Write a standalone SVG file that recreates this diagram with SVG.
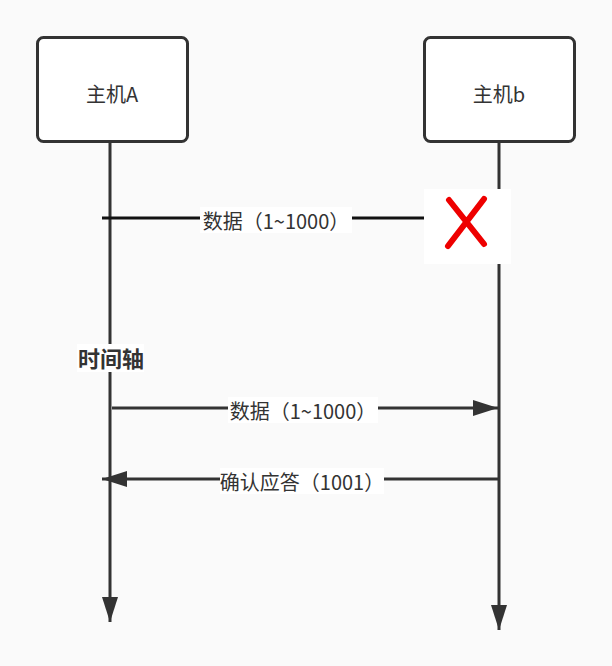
<svg xmlns="http://www.w3.org/2000/svg" width="612" height="666" viewBox="0 0 612 666">
<style>
.box{fill:#fff;stroke:#333;stroke-width:3}
.life{stroke:#333;stroke-width:3;fill:none}
.msg{stroke:#333;stroke-width:3;fill:none}
.lbl{font-family:"Noto Sans CJK SC","Microsoft YaHei",sans-serif;font-size:20px;fill:#333;text-anchor:middle}
.bg{fill:#fff}
</style>
<defs>
<marker id="ah" markerUnits="userSpaceOnUse" markerWidth="26" markerHeight="16" refX="25" refY="8" orient="auto">
<path d="M0,0 L25,8 L0,16 Z" fill="#333"/>
</marker>
</defs>
<rect width="612" height="666" fill="#fafafa"/>
<g id="lifelines">
<line class="life" x1="110" y1="141" x2="110" y2="622" marker-end="url(#ah)"/>
<line class="life" x1="499" y1="141" x2="499" y2="630" marker-end="url(#ah)"/>
</g>
<g id="hostA">
<rect class="box" x="37.5" y="37.5" width="150" height="104" rx="6"/>
<text class="lbl" x="112" y="102">主机A</text>
</g>
<g id="hostB">
<rect class="box" x="424.5" y="37.5" width="150" height="104" rx="6"/>
<text class="lbl" x="499" y="102">主机b</text>
</g>
<g id="connectors">
<line x1="102" y1="218" x2="424" y2="218" stroke="#111" stroke-width="3"/>
<line class="msg" x1="112" y1="408" x2="498" y2="408" marker-end="url(#ah)"/>
<line class="msg" x1="499" y1="479" x2="102" y2="479" marker-end="url(#ah)"/>
</g>
<g id="labels">
<rect class="bg" x="200" y="207" width="152" height="26"/>
<text class="lbl" x="276" y="229">数据（1~1000）</text>
<rect class="bg" x="228" y="397" width="150" height="26"/>
<text class="lbl" x="303" y="419">数据（1~1000）</text>
<rect class="bg" x="220" y="468" width="164" height="26"/>
<text class="lbl" x="302" y="490">确认应答（1001）</text>
</g>
<g id="timeaxis">
<rect class="bg" x="77" y="344" width="67" height="28"/>
<text x="111" y="367" font-family="'Noto Sans CJK SC',sans-serif" font-size="22" font-weight="bold" fill="#333" text-anchor="middle">时间轴</text>
</g>
<g id="lost">
<rect x="424" y="189" width="87" height="75" fill="#fff"/>
<path d="M449,200 L484,244 M484,199 L448,246" stroke="#ee0000" stroke-width="6" stroke-linecap="round" fill="none"/>
</g>
</svg>
